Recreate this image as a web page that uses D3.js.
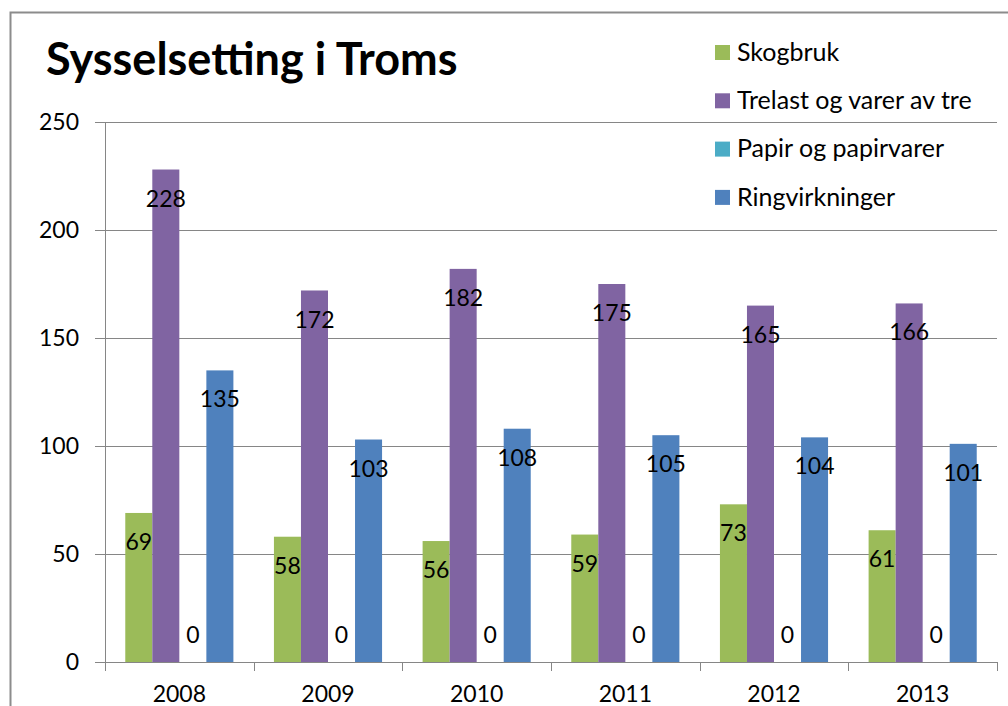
<!DOCTYPE html>
<html>
<head>
<meta charset="utf-8">
<script src="https://cdn.jsdelivr.net/npm/d3@7"></script>
<style>
body { margin: 0; background: #fff; }
text { font-family: Lato, "Open Sans", sans-serif; fill: #000; }
</style>
</head>
<body>
<svg width="1008" height="706"></svg>
<script>
// data
var years = ["2008", "2009", "2010", "2011", "2012", "2013"];
var seriesNames = ["Skogbruk", "Trelast og varer av tre", "Papir og papirvarer", "Ringvirkninger"];
var skogbruk = [69, 58, 56, 59, 73, 61];
var trelast = [228, 172, 182, 175, 165, 166];
var papir = [0, 0, 0, 0, 0, 0];
var ringvirkninger = [135, 103, 108, 105, 104, 101];
var yTicks = [0, 50, 100, 150, 200, 250];
var colors = ["#9bbb59", "#8064a2", "#4bacc6", "#4f81bd"];

var series = [skogbruk, trelast, papir, ringvirkninger];

var svg = d3.select("svg"),
	margin = { top: 122, left: 105 },
	width = 892,
	height = 540,
	g = svg.append("g").attr("transform", "translate(" + margin.left + "," + margin.top + ")");

// chart frame (only top and left edges visible)
svg.append("path")
	.attr("d", "M10.5,706 V12.5 H1008")
	.attr("fill", "none")
	.attr("stroke", "#8c8c8c")
	.attr("stroke-width", 2);

var x = d3.scaleBand().domain(years).range([0, width]);
// excel gap width 150%
var x1 = d3.scaleBand().domain(d3.range(series.length))
	.range([0, x.bandwidth()]).paddingInner(0).paddingOuter(0.75);
var y = d3.scaleLinear().domain([0, 250]).range([height, 0]);

// gridlines
g.selectAll(".grid")
	.data(yTicks)
	.enter().append("line")
	.attr("x1", -10).attr("x2", width)
	.attr("y1", function (d) { return Math.round(y(d)) + 0.5; })
	.attr("y2", function (d) { return Math.round(y(d)) + 0.5; })
	.attr("stroke", "#868686");

// y axis line
g.append("line")
	.attr("x1", 0.5).attr("x2", 0.5)
	.attr("y1", 0).attr("y2", height)
	.attr("stroke", "#868686");

// x axis ticks
g.selectAll(".xtick")
	.data(years.concat(["end"]))
	.enter().append("line")
	.attr("x1", function (d, i) { return Math.round(i * x.step()) + 0.5; })
	.attr("x2", function (d, i) { return Math.round(i * x.step()) + 0.5; })
	.attr("y1", height).attr("y2", height + 9)
	.attr("stroke", "#868686");

// y labels
g.selectAll(".ylabel")
	.data(yTicks)
	.enter().append("text")
	.attr("x", -26)
	.attr("y", function (d) { return y(d); })
	.attr("dy", "0.35em")
	.attr("text-anchor", "end")
	.style("font-size", "23px")
	.text(function (d) { return d; });

// x labels
g.selectAll(".xlabel")
	.data(years)
	.enter().append("text")
	.attr("x", function (d) { return x(d) + x.bandwidth() / 2; })
	.attr("y", height + 40)
	.attr("text-anchor", "middle")
	.style("font-size", "23px")
	.text(function (d) { return d; });

// bars
var groups = g.selectAll(".year")
	.data(years)
	.enter().append("g")
	.attr("transform", function (d) { return "translate(" + x(d) + ",0)"; });

groups.selectAll("rect")
	.data(function (d, i) { return series.map(function (s, k) { return { k: k, v: s[i] }; }); })
	.enter().append("rect")
	.attr("x", function (d) { return x1(d.k); })
	.attr("width", x1.bandwidth())
	.attr("y", function (d) { return y(d.v); })
	.attr("height", function (d) { return height - y(d.v); })
	.attr("fill", function (d) { return colors[d.k]; });

// value labels
groups.selectAll(".val")
	.data(function (d, i) { return series.map(function (s, k) { return { k: k, v: s[i] }; }); })
	.enter().append("text")
	.attr("x", function (d) { return x1(d.k) + x1.bandwidth() / 2; })
	.attr("y", function (d) { return d.v > 0 ? y(d.v) + 29 : y(d.v) - 27; })
	.attr("dy", "0.35em")
	.attr("text-anchor", "middle")
	.style("font-size", "23px")
	.text(function (d) { return d.v; });

// title
svg.append("text")
	.attr("x", 46)
	.attr("y", 75)
	.style("font-size", "45px")
	.style("font-weight", "bold")
	.text("Sysselsetting i Troms");

// legend
var legend = svg.selectAll(".legend")
	.data(seriesNames)
	.enter().append("g")
	.attr("transform", function (d, i) { return "translate(715," + (52 + i * 48.3) + ")"; });

legend.append("rect")
	.attr("x", 0).attr("y", -7)
	.attr("width", 15).attr("height", 15)
	.attr("fill", function (d, i) { return colors[i]; });

legend.append("text")
	.attr("x", 22)
	.attr("y", 0)
	.attr("dy", "0.35em")
	.style("font-size", "25px")
	.text(function (d) { return d; });
</script>
</body>
</html>
